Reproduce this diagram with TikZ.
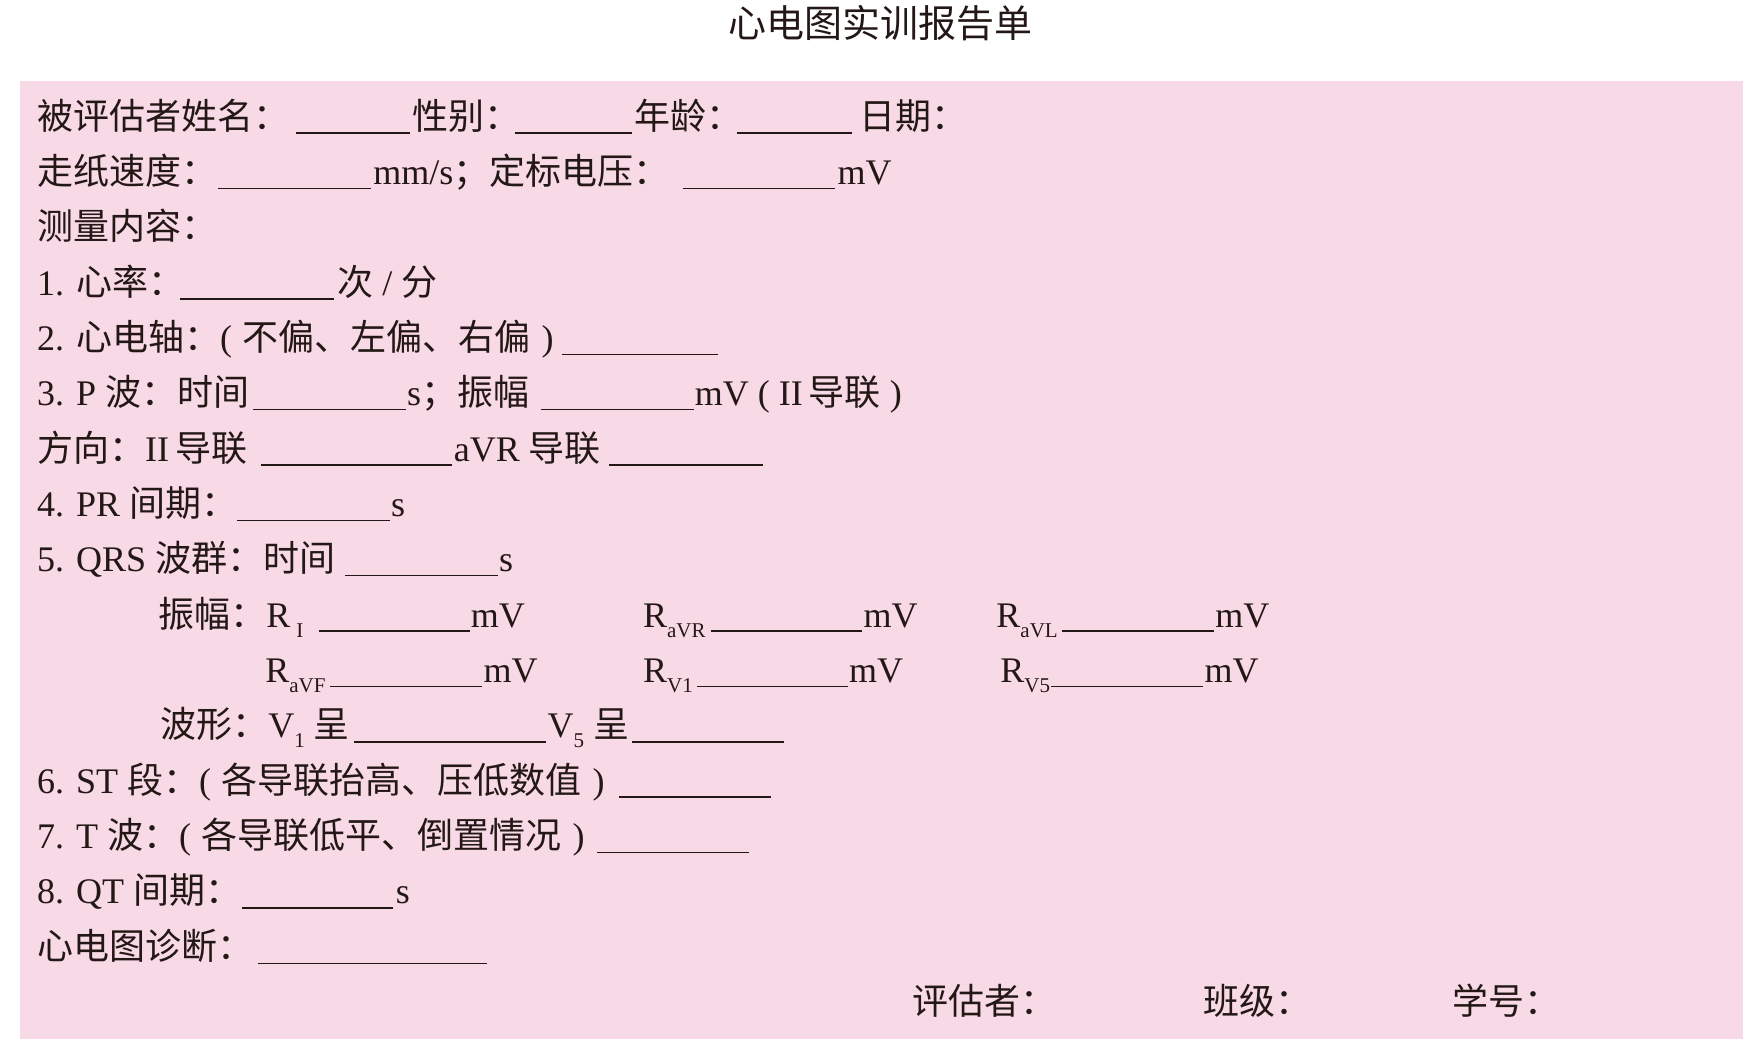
\documentclass[tikz,border=0pt]{standalone}
\usepackage{fontspec}
\setmainfont{Liberation Serif}
\newfontfamily\cjkf{Noto Sans CJK SC}[Scale=1.0]
\newcommand\zh[1]{{\cjkf #1}}
\newcommand\lp{(\hspace{0.3em}}
\newcommand\rp{\hspace{0.3em})}
\newcommand\sbx[1]{\raisebox{-0.28em}{\fontsize{21}{21}\selectfont #1}}
\definecolor{ink}{RGB}{35,24,21}
\definecolor{pinkbg}{RGB}{248,218,230}
\tikzset{
  txt/.style={anchor=base west, inner sep=0pt, outer sep=0pt, text=ink, font=\fontsize{36}{40}\selectfont},
  blank/.style={draw=ink, line width=1.4pt},
  titletxt/.style={anchor=center, inner sep=0pt, text=ink, font=\fontsize{38}{42}\selectfont\cjkf}
}
\begin{document}
\begin{tikzpicture}[x=0.99548pt,y=-0.99548pt]
\useasboundingbox (0,0) rectangle (1770.03,1064.8);
\fill[pinkbg] (20.3,81.3) rectangle (1750.7,1043.7);
\node[titletxt] (title) at (885,23) {心电图实训报告单};
% line 1
\node[txt] (a1) at (37.3,129.6) {\zh{被评估者姓名：}};
\draw[blank] (297,133.6) -- (412,133.6);
\node[txt] (a2) at (414.5,129.6) {\zh{性别：}};
\draw[blank] (517,133.6) -- (635,133.6);
\node[txt] (a3) at (637,129.6) {\zh{年龄：}};
\draw[blank] (740,133.6) -- (856,133.6);
\node[txt] (a4) at (863,129.6) {\zh{日期：}};
% line 2
\node[txt] (b1) at (37.3,185.2) {\zh{走纸速度：}};
\draw[blank] (219,189.2) -- (373,189.2);
\node[txt] (b2) at (375,185.2) {mm/s\zh{；定标电压：}};
\draw[blank] (686,189.2) -- (839,189.2);
\node[txt] (b3) at (841.5,185.2) {mV};
% line 3
\node[txt] (c1) at (37.3,240.8) {\zh{测量内容：}};
% line 4
\node[txt] (d1) at (37.3,296.4) {1. \zh{心率：}};
\draw[blank] (181,300.4) -- (335.5,300.4);
\node[txt] (d2) at (339,296.4) {\zh{次} / \zh{分}};
% line 5
\node[txt] (e1) at (37.3,352) {2. \zh{心电轴：}\lp\zh{不偏、左偏、右偏}\rp};
\draw[blank] (565,356) -- (721,356);
% line 6
\node[txt] (f1) at (37.3,407.6) {3. P \zh{波：时间}};
\draw[blank] (254,411.6) -- (408,411.6);
\node[txt] (f2) at (409,407.6) {s\zh{；振幅}};
\draw[blank] (543,411.6) -- (697,411.6);
\node[txt] (f3) at (698,407.6) {mV ( II\,\zh{导联} )};
% line 7
\node[txt] (g1) at (37.3,463.2) {\zh{方向：}II\,\zh{导联}};
\draw[blank] (262,467.2) -- (454,467.2);
\node[txt] (g2) at (456,463.2) {aVR \zh{导联}};
\draw[blank] (612,467.2) -- (766,467.2);
% line 8
\node[txt] (h1) at (37.3,518.8) {4. PR \zh{间期：}};
\draw[blank] (238,522.8) -- (392,522.8);
\node[txt] (h2) at (393,518.8) {s};
% line 9
\node[txt] (i1) at (37.3,574.4) {5. QRS \zh{波群：时间}};
\draw[blank] (347,578.4) -- (500,578.4);
\node[txt] (i2) at (501.5,574.4) {s};
% line 10
\node[txt] (j1) at (159,630) {\zh{振幅：}R\,\sbx{I}};
\draw[blank] (320,634) -- (472,634);
\node[txt] (j2) at (473,630) {mV};
\node[txt] (j3) at (646,630) {R\sbx{aVR}};
\draw[blank] (714,634) -- (866,634);
\node[txt] (j4) at (867.5,630) {mV};
\node[txt] (j5) at (1001,630) {R\sbx{aVL}};
\draw[blank] (1067,634) -- (1220,634);
\node[txt] (j6) at (1221,630) {mV};
% line 11
\node[txt] (k1) at (266.5,685.6) {R\sbx{aVF}};
\draw[blank] (332,689.6) -- (484.5,689.6);
\node[txt] (k2) at (485.7,685.6) {mV};
\node[txt] (k3) at (646,685.6) {R\sbx{V1}};
\draw[blank] (700,689.6) -- (852,689.6);
\node[txt] (k4) at (853,685.6) {mV};
\node[txt] (k5) at (1005,685.6) {R\sbx{V5}};
\draw[blank] (1056,689.6) -- (1208.6,689.6);
\node[txt] (k6) at (1210,685.6) {mV};
% line 12
\node[txt] (l1) at (161,741.2) {\zh{波形：}V\sbx{1} \zh{呈}};
\draw[blank] (356,745.2) -- (548,745.2);
\node[txt] (l2) at (550,741.2) {V\sbx{5} \zh{呈}};
\draw[blank] (635,745.2) -- (788,745.2);
% line 13
\node[txt] (m1) at (37.3,796.8) {6. ST \zh{段：}\lp\zh{各导联抬高、压低数值}\rp};
\draw[blank] (622,800.8) -- (775,800.8);
% line 14
\node[txt] (n1) at (37.3,852.4) {7. T \zh{波：}\lp\zh{各导联低平、倒置情况}\rp};
\draw[blank] (600,856.4) -- (752,856.4);
% line 15
\node[txt] (o1) at (37.3,908) {8. QT \zh{间期：}};
\draw[blank] (243,912) -- (395,912);
\node[txt] (o2) at (397.6,908) {s};
% line 16
\node[txt] (p1) at (37.3,963.6) {\zh{心电图诊断：}};
\draw[blank] (259,967.6) -- (489,967.6);
% line 17
\node[txt] (q1) at (917,1019.2) {\zh{评估者：}};
\node[txt] (q2) at (1208.6,1019.2) {\zh{班级：}};
\node[txt] (q3) at (1459,1019.2) {\zh{学号：}};
\end{tikzpicture}
\end{document}
